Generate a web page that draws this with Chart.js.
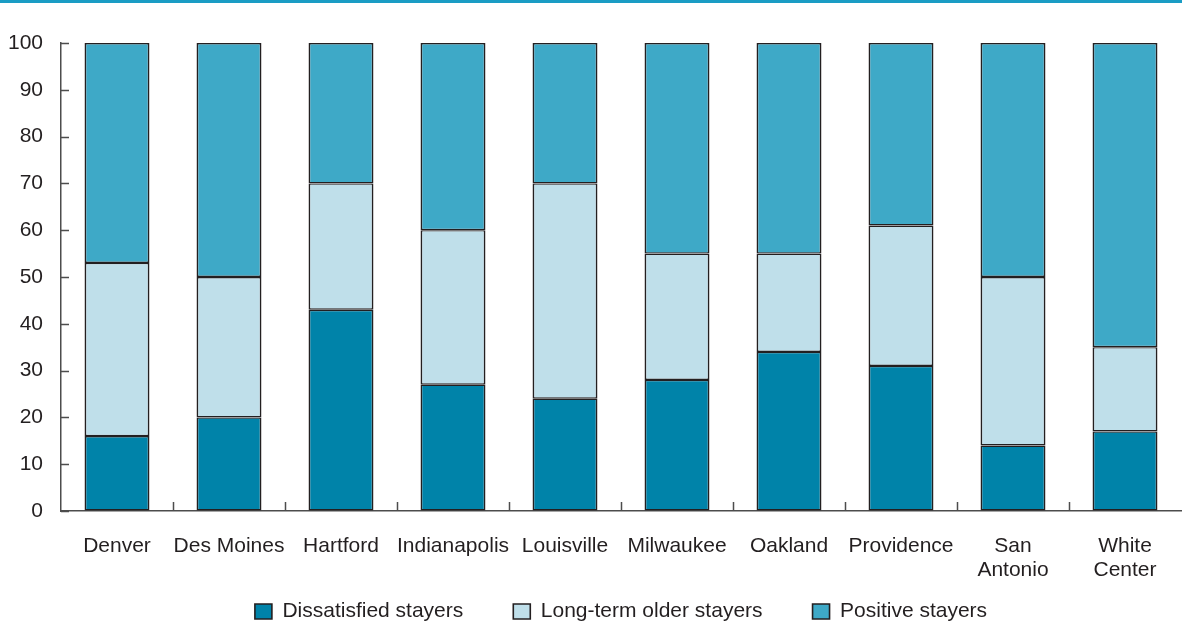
<!DOCTYPE html>
<html>
<head>
<meta charset="utf-8">
<script src="https://cdn.jsdelivr.net/npm/chart.js@4"></script>
<style>
  html, body { margin: 0; padding: 0; background: #fff; }
  #wrap { position: relative; width: 1182px; height: 627px; }
  #topline { position: absolute; left: 0; top: 0; width: 1182px; height: 3px; background: #1a9cc4; }
  #chart { position: absolute; left: 0; top: 0; }
</style>
</head>
<body>
<div id="wrap">
  <canvas id="chart" width="1182" height="627"></canvas>
  <div id="topline"></div>
</div>
<script>
let cities = ["Denver", "Des Moines", "Hartford", "Indianapolis", "Louisville", "Milwaukee", "Oakland", "Providence", ["San", "Antonio"], ["White", "Center"]];
let dissatisfied = [16, 20, 43, 27, 24, 28, 34, 31, 14, 17];
let longTermOlder = [37, 30, 27, 33, 46, 27, 21, 30, 36, 18];
let positive = [47, 50, 30, 40, 30, 45, 45, 39, 50, 65];
let yTicks = [0, 10, 20, 30, 40, 50, 60, 70, 80, 90, 100];

const edge = "#231f20";
const axisGray = "#4d4d4d";
const fontFamily = "'Liberation Sans', Arial, sans-serif";
const legendGap = 50;

// inward tick marks like the original figure
const innerTicks = {
    id: "innerTicks",
    afterDraw(chart) {
        let ctx = chart.ctx;
        let x = chart.scales.x;
        let y = chart.scales.y;
        let area = chart.chartArea;
        ctx.save();
        ctx.strokeStyle = axisGray;
        ctx.lineWidth = 1.5;
        ctx.beginPath();
        yTicks.forEach(v => {
            let py = Math.round(y.getPixelForValue(v)) + 0.5;
            ctx.moveTo(area.left, py);
            ctx.lineTo(area.left + 8, py);
        });
        for (let i = 0; i < cities.length - 1; i++) {
            let px = (x.getPixelForValue(i) + x.getPixelForValue(i + 1)) / 2;
            px = Math.round(px) + 0.5;
            ctx.moveTo(px, area.bottom);
            ctx.lineTo(px, area.bottom - 9);
        }
        ctx.stroke();
        ctx.restore();
    }
};

// legend sits under the plot area, centred on it, with wide gaps between items
const placeLegend = {
    id: "placeLegend",
    afterLayout(chart) {
        let lg = chart.legend;
        let area = chart.chartArea;
        lg.left = area.left;
        lg.right = area.right;
        lg.top = 601 - legendGap;
        lg.bottom = 627;
    }
};

function makeSet(label, data, color) {
    return {
        label: label,
        data: data,
        backgroundColor: color,
        borderColor: edge,
        borderWidth: { top: 1.4, bottom: 1.4, left: 1.8, right: 1.8 },
        borderSkipped: false,
        categoryPercentage: 1,
        barPercentage: 0.58
    };
}

new Chart(document.getElementById("chart").getContext("2d"), {
    type: "bar",
    data: {
        labels: cities,
        datasets: [
            makeSet("Dissatisfied stayers", dissatisfied, "#0083a9"),
            makeSet("Long-term older stayers", longTermOlder, "#bfdfea"),
            makeSet("Positive stayers", positive, "#3ea9c7")
        ]
    },
    options: {
        responsive: false,
        animation: false,
        layout: { padding: { top: 43, right: 1, left: 0, bottom: 0 } },
        scales: {
            x: {
                stacked: true,
                grid: { display: true, drawOnChartArea: false, drawTicks: false },
                border: { display: true, color: axisGray, width: 1.5 },
                afterFit(scale) { scale.height = 86; },
                ticks: {
                    color: "#231f20",
                    padding: 23,
                    maxRotation: 0,
                    autoSkip: false,
                    font: { family: fontFamily, size: 21, lineHeight: 1.15 }
                }
            },
            y: {
                stacked: true,
                min: 0,
                max: 100,
                grid: { display: true, drawOnChartArea: false, drawTicks: false },
                border: { display: true, color: axisGray, width: 1.5 },
                afterFit(scale) { scale.width = 61; },
                afterBuildTicks(scale) { scale.ticks = yTicks.map(v => ({ value: v })); },
                ticks: {
                    color: "#231f20",
                    padding: 18,
                    font: { family: fontFamily, size: 21 }
                }
            }
        },
        plugins: {
            tooltip: { enabled: false },
            legend: {
                position: "bottom",
                maxHeight: 30,
                labels: {
                    color: "#231f20",
                    boxWidth: 17,
                    boxHeight: 15,
                    padding: legendGap,
                    font: { family: fontFamily, size: 21 }
                }
            }
        }
    },
    plugins: [innerTicks, placeLegend]
});
</script>
</body>
</html>
